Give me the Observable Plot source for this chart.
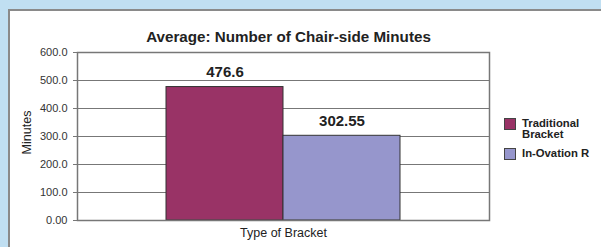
<!DOCTYPE html>
<html>
<head>
<meta charset="utf-8">
<script src="https://cdn.jsdelivr.net/npm/d3@7"></script>
<script src="https://cdn.jsdelivr.net/npm/@observablehq/plot@0.6"></script>
<style>
  html, body { margin: 0; padding: 0; }
  body { width: 601px; height: 247px; overflow: hidden; background: #c0dff2; position: relative; font-family: "Liberation Sans", Arial, Helvetica, sans-serif; }
  #panel { position: absolute; left: 8px; top: 9px; width: 600px; height: 260px; background: #fff; border-left: 2px solid #8a8a8a; border-top: 2px solid #8a8a8a; box-sizing: border-box; }
  #chart { position: absolute; left: 0; top: 0; }
  #legend { position: absolute; left: 504px; top: 118px; font-size: 11.3px; font-weight: bold; color: #222; line-height: 10.5px; }
  .item { position: relative; padding-left: 18px; margin-bottom: 9px; }
  .sw { position: absolute; left: 0; top: 0; width: 12px; height: 12px; border: 1px solid #444; box-sizing: border-box; }
</style>
</head>
<body>
<div id="panel"></div>
<div id="chart"></div>
<div id="legend"></div>
<script>
const categories = ["Traditional Bracket", "In-Ovation R"];
const minutes = [476.6, 302.55];
const valueLabels = ["476.6", "302.55"];
const colors = ["#993366", "#9696cc"];
const yTicks = [0, 100, 200, 300, 400, 500, 600];
const yTickLabels = ["0.00", "100.0", "200.0", "300.0", "400.0", "500.0", "600.0"];
const title = "Average: Number of Chair-side Minutes";
const xTitle = "Type of Bracket";
const yTitle = "Minutes";

const data = categories.map((c, i) => ({bracket: c, minutes: minutes[i], label: valueLabels[i]}));

const chart = Plot.plot({
  width: 601,
  height: 247,
  marginLeft: 77,
  marginRight: 112,
  marginTop: 52,
  marginBottom: 27,
  style: {background: "transparent", fontFamily: "Liberation Sans, Arial, sans-serif", color: "#333"},
  x: {type: "band", domain: categories, paddingInner: 0, paddingOuter: 0.753, axis: null},
  y: {domain: [0, 600], axis: null},
  color: {domain: categories, range: colors},
  marks: [
    Plot.gridY(yTicks, {stroke: "#777", strokeOpacity: 1, strokeWidth: 1}),
    Plot.barY(data, {x: "bracket", y: "minutes", fill: "bracket", stroke: "#333", strokeWidth: 1}),
    Plot.frame({stroke: "#777", strokeWidth: 1.5}),
    Plot.axisY({ticks: yTicks, tickFormat: (d) => yTickLabels[yTicks.indexOf(d)], tickSize: 4, tickPadding: 6, fontSize: 11, stroke: "#777", fill: "#333", label: null}),
    Plot.text(data, {x: "bracket", y: "minutes", text: "label", lineAnchor: "bottom", dy: -10, fontSize: 15, fontWeight: "bold", fill: "#222"}),
    Plot.text([title], {frameAnchor: "top", dy: -21, dx: 5, fontSize: 15.2, fontWeight: "bold", fill: "#222"}),
    Plot.text([xTitle], {frameAnchor: "bottom", dy: 16, fontSize: 12.5, fill: "#222"}),
    Plot.text([yTitle], {frameAnchor: "left", textAnchor: "middle", dx: -51, dy: -4, rotate: -90, fontSize: 12.5, fill: "#222"})
  ]
});
document.getElementById("chart").appendChild(chart);

const legend = document.getElementById("legend");
const legendLines = [["Traditional", "Bracket"], ["In-Ovation R"]];
categories.forEach((c, i) => {
  const item = document.createElement("div");
  item.className = "item";
  const sw = document.createElement("span");
  sw.className = "sw";
  sw.style.background = colors[i];
  item.appendChild(sw);
  legendLines[i].forEach((t, j) => {
    if (j) item.appendChild(document.createElement("br"));
    item.appendChild(document.createTextNode(t));
  });
  legend.appendChild(item);
});
</script>
</body>
</html>
